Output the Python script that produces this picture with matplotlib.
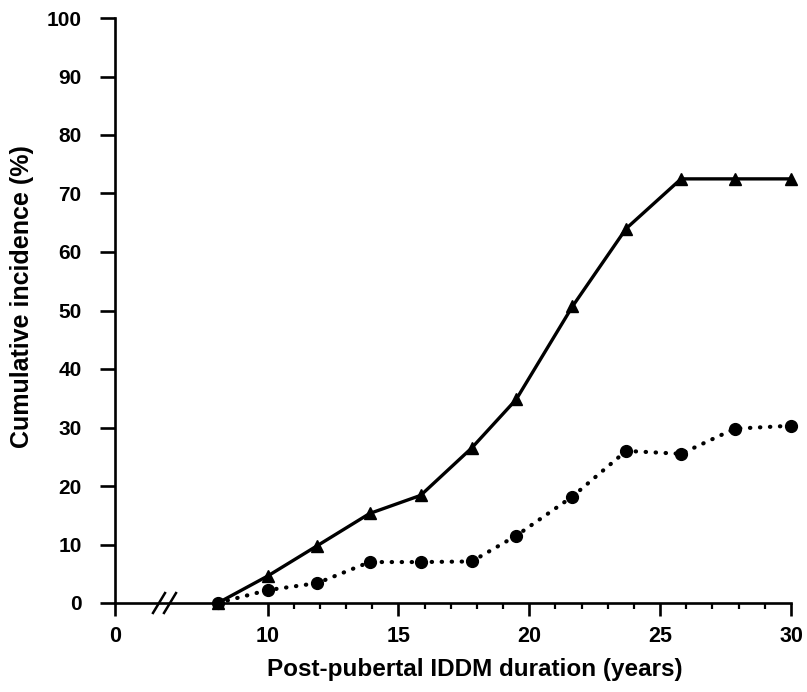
import numpy as np
import matplotlib
matplotlib.use("Agg")
import matplotlib.pyplot as plt
import matplotlib.transforms as mtransforms
from matplotlib.ticker import FixedLocator

# ---- data ----
years = [8.1, 10.0, 11.9, 13.9, 15.85, 17.8, 19.5, 21.65, 23.7, 25.8, 27.85, 30.0]
triangle_series = [0.0, 4.6, 9.8, 15.3, 18.4, 26.5, 34.8, 50.7, 64.0, 72.5, 72.5, 72.5]
circle_series = [0.0, 2.2, 3.4, 7.0, 7.0, 7.1, 11.5, 18.2, 26.0, 25.5, 29.8, 30.3]
x_major_ticks = [0, 10, 15, 20, 25, 30]
x_minor_ticks = [11, 12, 13, 14, 16, 17, 18, 19, 21, 22, 23, 24, 26, 27, 28, 29]
y_ticks = [0, 10, 20, 30, 40, 50, 60, 70, 80, 90, 100]
x_label = "Post-pubertal IDDM duration (years)"
y_label = "Cumulative incidence (%)"

# broken axis: 0..BRK compressed
BRK = 6.0
S0 = 4.17


def fwd(x):
    x = np.asarray(x, dtype=float)
    return np.where(x >= BRK, x, S0 + x * (BRK - S0) / BRK)


def inv(y):
    y = np.asarray(y, dtype=float)
    return np.where(y >= BRK, y, (y - S0) * BRK / (BRK - S0))


plt.rcParams['font.family'] = ['Liberation Sans', 'DejaVu Sans']

fig = plt.figure(figsize=(8.07, 6.92), dpi=100)
ax = fig.add_axes([115 / 807, 89 / 692, 676 / 807, 585 / 692])
ax.set_xscale('function', functions=(fwd, inv))
ax.set_xlim(0, 30)
ax.set_ylim(0, 100)

ax.plot(years, triangle_series, color='black', lw=2.4, marker='^', ms=8.5,
        clip_on=False, zorder=3)
ax.plot(years, circle_series, color='black', lw=3.0, linestyle=(0, (0.1, 2.3)),
        dash_capstyle='round', marker='o', ms=8.5, clip_on=False, zorder=3)

for s in ['top', 'right']:
    ax.spines[s].set_visible(False)
for s in ['left', 'bottom']:
    ax.spines[s].set_linewidth(1.9)

ax.xaxis.set_major_locator(FixedLocator(x_major_ticks))
ax.xaxis.set_minor_locator(FixedLocator(x_minor_ticks))
ax.set_xticklabels([str(t) for t in x_major_ticks])
ax.set_yticks(y_ticks)
ax.set_yticklabels([str(t) for t in y_ticks])

ax.tick_params(axis='x', which='major', direction='out', length=9.5, width=1.9,
               pad=7, labelsize=15.5)
ax.tick_params(axis='x', which='minor', direction='out', length=4.5, width=1.6)
ax.tick_params(axis='y', which='major', direction='out', length=11, width=1.9,
               pad=13, labelsize=15)
for lbl in ax.get_xticklabels() + ax.get_yticklabels():
    lbl.set_fontweight('bold')

ax.set_xlabel(x_label, fontsize=17.5, fontweight='bold')
ax.set_ylabel(y_label, fontsize=18, fontweight='bold')
ax.xaxis.set_label_coords((475 - 115) / 676, -0.094)
ax.yaxis.set_label_coords(-0.12, 0.523)

# axis break marks (x in axes fraction, y in data)
trans = mtransforms.blended_transform_factory(ax.transAxes, ax.transData)
for x0, x1 in ((153, 165), (164, 176)):
    ax.plot([(x0 - 115) / 676, (x1 - 115) / 676], [-1.7, 1.7], color='black',
            lw=1.8, clip_on=False, transform=trans)

fig.savefig("out.png", dpi=100)
